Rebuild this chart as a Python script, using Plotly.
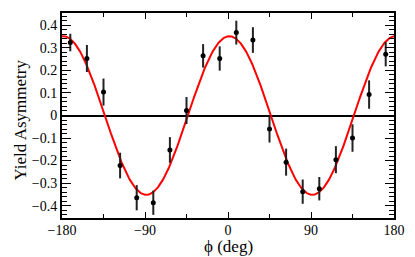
import numpy as np
import plotly.graph_objects as go

# Data
phi_deg = [-171, -153, -135, -117, -99, -81, -63, -45, -27, -9,
           9, 27, 45, 63, 81, 99, 117, 135, 153, 171]
asym = [0.324, 0.253, 0.104, -0.222, -0.365, -0.387, -0.153, 0.022, 0.265, 0.253,
        0.368, 0.335, -0.060, -0.207, -0.338, -0.325, -0.196, -0.100, 0.093, 0.272]
asym_err = [0.039, 0.060, 0.060, 0.057, 0.056, 0.054, 0.057, 0.060, 0.052, 0.054,
            0.053, 0.057, 0.060, 0.060, 0.054, 0.052, 0.060, 0.061, 0.063, 0.054]

# Fit curve parameters: A*cos(2*(phi - phi0))
fit_amp = 0.352
fit_phase = 1.5

x_ticks = [-180, -90, 0, 90, 180]
x_title = "\u03d5 (deg)"
y_title = "Yield Asymmetry"

phi_fit = np.linspace(-180, 180, 721)
y_fit = fit_amp * np.cos(np.radians(2 * (phi_fit - fit_phase)))

fig = go.Figure()
fig.add_trace(go.Scatter(
    x=phi_fit, y=y_fit, mode="lines",
    line=dict(color="#ff0000", width=2), hoverinfo="skip", showlegend=False))
fig.add_trace(go.Scatter(
    x=phi_deg, y=asym, mode="markers",
    marker=dict(color="black", size=5),
    error_y=dict(type="data", array=asym_err, color="#222222", thickness=2, width=0),
    showlegend=False))

font_family = "Liberation Serif"
# page body has an 8px margin, so the figure is sized to fit the window
fig.update_layout(
    width=407, height=249,
    margin=dict(l=54, r=21, t=5, b=39),
    paper_bgcolor="white", plot_bgcolor="white",
    font=dict(family=font_family, size=14, color="black"),
)
fig.update_xaxes(
    range=[-180, 180], tickvals=x_ticks, ticktext=[str(v).replace("-", "\u2212") for v in x_ticks],
    ticks="inside", ticklen=6, tickwidth=1, tickcolor="black",
    minor=dict(dtick=45, tick0=-180, ticks="inside", ticklen=4, tickcolor="black"),
    showline=True, linecolor="black", linewidth=2, mirror="allticks",
    showgrid=False, zeroline=False, automargin=False, ticklabelstandoff=-2,
    tickfont=dict(family=font_family, size=14),
)
fig.update_yaxes(
    range=[-0.455, 0.455], dtick=0.1, tick0=0,
    ticks="inside", ticklen=9, tickwidth=1, tickcolor="black",
    minor=dict(dtick=0.02, tick0=0, ticks="inside", ticklen=5, tickcolor="black"),
    showline=True, linecolor="black", linewidth=2, mirror="allticks",
    showgrid=False, zeroline=True, zerolinecolor="black", zerolinewidth=1.5,
    automargin=False,
    tickfont=dict(family=font_family, size=14),
)
fig.add_annotation(
    text=x_title, xref="paper", yref="paper", x=0.5, y=0,
    xanchor="center", yanchor="top", yshift=-17, showarrow=False,
    font=dict(family=font_family, size=17, color="black"))
fig.add_annotation(
    text=y_title, xref="paper", yref="paper", x=0, y=0.5, textangle=-90,
    xanchor="center", yanchor="middle", xshift=-42, yshift=-5, showarrow=False,
    font=dict(family=font_family, size=17, color="black"))

fig.write_html("out.html")
